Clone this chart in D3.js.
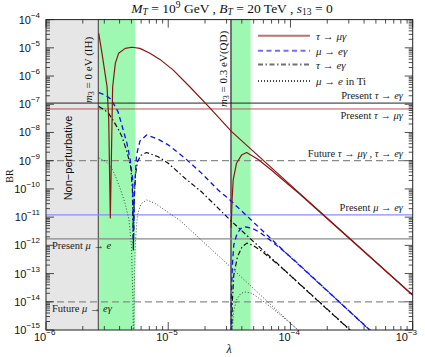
<!DOCTYPE html>
<html><head><meta charset="utf-8">
<script src="https://cdn.jsdelivr.net/npm/d3@7"></script>
<style>body{margin:0;background:#fff}</style>
</head><body>
<svg id="c" width="425" height="357"></svg>
<script>
// ---------------- data ----------------
const xTicks = [1e-6, 1e-5, 1e-4, 1e-3];
const xTickExp = ["−6", "−5", "−4", "−3"];
const yTicks = [1e-15,1e-14,1e-13,1e-12,1e-11,1e-10,1e-9,1e-8,1e-7,1e-6,1e-5,1e-4];
const yTickExp = ["−15","−14","−13","−12","−11","−10","−9","−8","−7","−6","−5","−4"];

const lambdaIH = 2.68e-6;   // m3 = 0 eV (IH)
const lambdaQD = 3.26e-5;   // m3 = 0.3 eV (QD)
const nonPertRange = [1e-6, 2.68e-6];
const greenBands = [[2.68e-6, 5.35e-6], [3.26e-5, 4.72e-5]];

// experimental bounds
const presentTauE = 1.1e-7;
const presentTauMu = 6.8e-8;
const futureTau = 1e-9;
const presentMuEGamma = 1.2e-11;
const presentMuE = 1.7e-12;
const futureMuEGamma = 1e-14;

// tau -> mu gamma
const tauMuIH = [[2.70e-6,3.27e-5],[2.87e-6,6.46e-6],[3.03e-6,1.38e-6],[3.16e-6,4.17e-7],[3.26e-6,2.75e-8],
  [3.36e-6,9.3e-12],[3.47e-6,2.75e-8],[3.51e-6,4.17e-7],[3.69e-6,2.82e-6],[3.93e-6,6.46e-6],[4.45e-6,9.55e-6],
  [5.05e-6,1.05e-5],[5.87e-6,9.55e-6],[7.08e-6,6.46e-6],[8.55e-6,3.89e-6],[1.10e-5,1.62e-6],[1.50e-5,4.17e-7],
  [2.19e-5,7.41e-8],[3.30e-5,1.07e-8],[1.19e-4,6.92e-11],[1e-3,1.74e-14]];
const tauMuQD = [[3.27e-5,4.17e-12],[3.33e-5,4.07e-11],[3.40e-5,2.09e-10],[3.62e-5,8.13e-10],[3.98e-5,1.58e-9],
  [4.38e-5,1.95e-9],[5.45e-5,1.10e-9],[7.05e-5,4.47e-10],[8.99e-5,1.82e-10],[1.19e-4,6.61e-11],[1e-3,1.70e-14]];

// mu -> e gamma
const muEIH = [[2.70e-6,2.57e-7],[3.05e-6,2.14e-7],[3.40e-6,1.51e-7],[3.88e-6,5.50e-8],[4.13e-6,2.14e-8],
  [4.59e-6,4.17e-9],[4.89e-6,1.07e-9],[5.12e-6,2.09e-10],[5.19e-6,1.05e-12],[5.30e-6,9.12e-11],[5.50e-6,1.58e-9],
  [5.87e-6,5.01e-9],[6.65e-6,8.13e-9],[8.28e-6,5.75e-9],[1.0e-5,3.63e-9],[1.37e-5,1.23e-9],[1.87e-5,3.63e-10],
  [2.56e-5,9.12e-11],[3.20e-5,4.07e-11],[9.89e-5,3.98e-13],[4.46e-4,1.0e-15],[1e-3,3.98e-17]];
const muEQD = [[3.27e-5,1e-16],[3.28e-5,1.17e-14],[3.35e-5,2.04e-13],[3.44e-5,1.05e-12],[3.65e-5,2.57e-12],
  [3.93e-5,3.98e-12],[4.32e-5,4.47e-12],[4.83e-5,4.07e-12],[5.62e-5,2.88e-12],[6.79e-5,1.55e-12],
  [8.51e-5,7.08e-13],[1.09e-4,2.82e-13],[4.46e-4,9.77e-16],[1e-3,3.98e-17]];

// tau -> e gamma
const tauEIH = [[2.70e-6,8.32e-8],[2.98e-6,6.46e-8],[3.24e-6,4.90e-8],[3.53e-6,2.75e-8],[3.88e-6,1.38e-8],
  [4.18e-6,7.24e-9],[4.63e-6,1.86e-9],[4.95e-6,5.50e-10],[5.09e-6,9.12e-11],[5.18e-6,6.92e-13],[5.26e-6,4.07e-11],
  [5.40e-6,3.16e-10],[5.60e-6,9.12e-10],[5.98e-6,1.55e-9],[6.65e-6,1.95e-9],[8.28e-6,1.38e-9],[1.0e-5,8.13e-10],
  [1.37e-5,2.40e-10],[1.87e-5,7.94e-11],[2.56e-5,2.09e-11],[3.20e-5,7.94e-12],[9.89e-5,8.91e-14],
  [3.06e-4,1.02e-15],[1e-3,1e-17]];
const tauEQD = [[3.27e-5,1e-16],[3.35e-5,1.17e-14],[3.44e-5,8.91e-14],[3.68e-5,3.89e-13],[4.01e-5,8.71e-13],
  [4.40e-5,1.20e-12],[4.92e-5,1.0e-12],[5.83e-5,6.17e-13],[7.05e-5,3.16e-13],[8.99e-5,1.29e-13],
  [1.19e-4,4.17e-14],[3.06e-4,1e-15],[1e-3,1e-17]];

// mu -> e in Ti
const muTiIH = [[2.70e-6,1.26e-9],[3.03e-6,9.77e-10],[3.33e-6,7.08e-10],[3.66e-6,3.16e-10],[4.03e-6,1.07e-10],
  [4.43e-6,3.16e-11],[4.78e-6,7.94e-12],[5.00e-6,1.02e-12],[5.14e-6,1.15e-14],[5.20e-6,1e-16],[5.27e-6,2.63e-14],
  [5.40e-6,1.55e-12],[5.60e-6,1.20e-11],[5.98e-6,2.95e-11],[6.65e-6,4.07e-11],[7.78e-6,3.09e-11],
  [1.07e-5,1.20e-11],[1.25e-5,7.59e-12],[3.20e-5,1.78e-13],[1.15e-4,1e-15],[1e-3,1.58e-19]];
const muTiQD = [[3.27e-5,1e-17],[3.35e-5,1e-15],[3.44e-5,5.13e-15],[3.65e-5,1.26e-14],[3.93e-5,2.0e-14],
  [4.32e-5,2.24e-14],[4.83e-5,2.0e-14],[5.62e-5,1.26e-14],[6.79e-5,6.92e-15],[8.51e-5,3.09e-15],
  [1.09e-4,1.23e-15],[1e-3,1.58e-19]];

// ---------------- drawing ----------------
const L = 46, R = 412.7, T = 19.6, B = 330;
const x = d3.scaleLog().domain([1e-6, 1e-3]).range([L, R]);
const y = d3.scaleLog().domain([1e-15, 1e-4]).range([B, T]);
const svg = d3.select("#c");
const serif = "'Liberation Serif','DejaVu Serif',serif";
const sans = "'Liberation Sans',Arial,sans-serif";

svg.append("defs").append("clipPath").attr("id","clip")
  .append("rect").attr("x",L).attr("y",T).attr("width",R-L).attr("height",B-T);

// background regions
svg.append("rect").attr("x", x(nonPertRange[0])).attr("y", T)
  .attr("width", x(nonPertRange[1]) - x(nonPertRange[0])).attr("height", B - T).attr("fill", "#e6e6e6");
svg.selectAll("rect.band").data(greenBands).enter().append("rect").attr("class","band")
  .attr("x", d => x(d[0])).attr("y", T).attr("width", d => x(d[1]) - x(d[0])).attr("height", B - T)
  .attr("fill", "#9ff8b2");

// vertical lines
svg.append("line").attr("x1", x(lambdaIH)).attr("x2", x(lambdaIH)).attr("y1", T).attr("y2", B)
  .attr("stroke", "#555").attr("stroke-width", 1.2);
svg.append("line").attr("x1", x(lambdaQD)).attr("x2", x(lambdaQD)).attr("y1", T).attr("y2", B)
  .attr("stroke", "#222").attr("stroke-width", 1.2);

// horizontal reference lines
const hlines = [
  {v: presentTauE, c: "#222", w: 1, d: null},
  {v: presentTauMu, c: "#b05656", w: 1, d: null},
  {v: futureTau, c: "#8a8a8a", w: 1.3, d: "7,4"},
  {v: presentMuEGamma, c: "#8a8aff", w: 1.4, d: null},
  {v: presentMuE, c: "#8a8a8a", w: 1.3, d: null},
  {v: futureMuEGamma, c: "#8a8a8a", w: 1.3, d: "7,4"}
];
hlines.forEach(h => {
  svg.append("line").attr("x1", L).attr("x2", R).attr("y1", y(h.v)).attr("y2", y(h.v))
    .attr("stroke", h.c).attr("stroke-width", h.w).attr("stroke-dasharray", h.d);
});

// curves
const line = d3.line().x(d => x(d[0])).y(d => y(d[1]));
const g = svg.append("g").attr("clip-path", "url(#clip)");
const styles = {
  red: {c: "#8b1515", w: 1.2, d: null},
  blue: {c: "#1010f0", w: 1.3, d: "5,3.5"},
  blk: {c: "#111", w: 1.2, d: "5,2.5,1.5,2.5"},
  dot: {c: "#444", w: 1, d: "1,2"}
};
[[muTiIH,"dot"],[muTiQD,"dot"],[tauEIH,"blk"],[tauEQD,"blk"],[muEIH,"blue"],[muEQD,"blue"],[tauMuIH,"red"],[tauMuQD,"red"]]
.forEach(([data, s]) => {
  const st = styles[s];
  g.append("path").attr("d", line(data)).attr("fill","none").attr("stroke", st.c)
    .attr("stroke-width", st.w).attr("stroke-dasharray", st.d).attr("stroke-linejoin","round");
});

// frame
svg.append("rect").attr("x", L).attr("y", T).attr("width", R - L).attr("height", B - T)
  .attr("fill","none").attr("stroke","#222").attr("stroke-width",1);

// ticks
const xMinor = [], yMinor = [];
for (let d = -6; d < -3; d++) for (let k = 2; k < 10; k++) xMinor.push(k * Math.pow(10, d));
for (let d = -15; d < -4; d++) for (let k = 2; k < 10; k++) yMinor.push(k * Math.pow(10, d));
const tk = svg.append("g").attr("stroke", "#222").attr("stroke-width", 0.8);
xTicks.forEach(v => { tk.append("line").attr("x1",x(v)).attr("x2",x(v)).attr("y1",B).attr("y2",B-8);
  tk.append("line").attr("x1",x(v)).attr("x2",x(v)).attr("y1",T).attr("y2",T+8); });
xMinor.forEach(v => { tk.append("line").attr("x1",x(v)).attr("x2",x(v)).attr("y1",B).attr("y2",B-4);
  tk.append("line").attr("x1",x(v)).attr("x2",x(v)).attr("y1",T).attr("y2",T+4); });
yTicks.forEach(v => { tk.append("line").attr("y1",y(v)).attr("y2",y(v)).attr("x1",L).attr("x2",L+8);
  tk.append("line").attr("y1",y(v)).attr("y2",y(v)).attr("x1",R).attr("x2",R-8); });
yMinor.forEach(v => { tk.append("line").attr("y1",y(v)).attr("y2",y(v)).attr("x1",L).attr("x2",L+4);
  tk.append("line").attr("y1",y(v)).attr("y2",y(v)).attr("x1",R).attr("x2",R-4); });

// tick labels
xTicks.forEach((v, i) => {
  const t = svg.append("text").attr("x", x(v) - 12 - (i === 3 ? 5 : 0)).attr("y", B + 11).attr("font-family", sans)
    .attr("font-size", 11).attr("fill","#111");
  t.append("tspan").text("10");
  t.append("tspan").attr("dy", -6).attr("font-size", 8).text(xTickExp[i]);
});
yTicks.forEach((v, i) => {
  const t = svg.append("text").attr("x", 40).attr("y", y(v) + 4).attr("text-anchor","end")
    .attr("font-family", sans).attr("font-size", 11).attr("fill","#111");
  t.append("tspan").text("10");
  t.append("tspan").attr("dy", -6).attr("font-size", 8).text(yTickExp[i]);
});

// helper for rich text: parts {t, i (italic), dy (shift), fs (font size)}
function rich(sel, parts) {
  parts.forEach(p => {
    const ts = sel.append("tspan").text(p.t);
    if (p.i) ts.attr("font-style","italic");
    if (p.dy) ts.attr("dy", p.dy);
    if (p.fs) ts.attr("font-size", p.fs);
  });
  return sel;
}

// title
rich(svg.append("text").attr("x", 232).attr("y", 12.5).attr("text-anchor","middle")
  .attr("font-family", serif).attr("font-size", 13.5).attr("fill","#111"), [
  {t:"M", i:1},{t:"T", i:1, dy:2.5, fs:9.5},{t:" = 10", dy:-2.5},{t:"9", dy:-4.5, fs:9.5},{t:" GeV , ", dy:4.5},
  {t:"B", i:1},{t:"T", i:1, dy:2.5, fs:9.5},{t:" = 20 TeV , ", dy:-2.5},{t:"s", i:1},{t:"13", dy:2.5, fs:9.5},{t:" = 0", dy:-2.5}
]);

// axis titles
svg.append("text").attr("transform","translate(13,176) rotate(-90)").attr("text-anchor","middle")
  .attr("font-family", serif).attr("font-size", 10).attr("fill","#111").text("BR");
svg.append("text").attr("x", 229).attr("y", 353).attr("text-anchor","middle")
  .attr("font-family", serif).attr("font-style","italic").attr("font-size", 12).attr("fill","#111").text("λ");

// region labels
svg.append("text").attr("transform","translate(72,158) rotate(-90)").attr("text-anchor","middle")
  .attr("font-family", sans).attr("font-size", 11).attr("fill","#111").text("Non−perturbative");
rich(svg.append("text").attr("transform",`translate(${x(lambdaIH)-6},70) rotate(-90)`).attr("text-anchor","middle")
  .attr("font-family", serif).attr("font-size", 11).attr("fill","#111"),
  [{t:"m", i:1},{t:"3", dy:2, fs:8},{t:" = 0 eV (IH)", dy:-2}]);
rich(svg.append("text").attr("transform",`translate(${x(lambdaQD)-4},69) rotate(-90)`).attr("text-anchor","middle")
  .attr("font-family", serif).attr("font-size", 11).attr("fill","#111"),
  [{t:"m", i:1},{t:"3", dy:2, fs:8},{t:" = 0.3 eV(QD)", dy:-2}]);

// bound labels
function label(xp, yp, anchor, parts) {
  rich(svg.append("text").attr("x", xp).attr("y", yp).attr("text-anchor", anchor)
    .attr("font-family", serif).attr("font-size", 10.5).attr("fill","#222"), parts);
}
label(403, y(presentTauE) - 4, "end", [{t:"Present "},{t:"τ", i:1},{t:" → "},{t:"eγ", i:1}]);
label(403, y(presentTauMu) + 10, "end", [{t:"Present "},{t:"τ", i:1},{t:" → "},{t:"μγ", i:1}]);
label(403, y(futureTau) - 4, "end", [{t:"Future "},{t:"τ", i:1},{t:" → "},{t:"μγ", i:1},{t:" , "},{t:"τ", i:1},{t:" → "},{t:"eγ", i:1}]);
label(403, y(presentMuEGamma) - 4, "end", [{t:"Present "},{t:"μ", i:1},{t:" → "},{t:"eγ", i:1}]);
label(52, y(presentMuE) + 10, "start", [{t:"Present "},{t:"μ", i:1},{t:" → "},{t:"e", i:1}]);
label(52, y(futureMuEGamma) + 10, "start", [{t:"Future "},{t:"μ", i:1},{t:" → "},{t:"eγ", i:1}]);

// legend
const legendItems = [
  {s:"red", parts:[{t:"τ", i:1},{t:" → "},{t:"μγ", i:1}]},
  {s:"blue", parts:[{t:"μ", i:1},{t:" → "},{t:"eγ", i:1}]},
  {s:"blk", parts:[{t:"τ", i:1},{t:" → "},{t:"eγ", i:1}]},
  {s:"dot", parts:[{t:"μ", i:1},{t:" → "},{t:"e", i:1},{t:" in Ti"}]}
];
const legendY = [35.7, 50.7, 64.5, 81];
legendItems.forEach((it, i) => {
  const st = styles[it.s];
  svg.append("line").attr("x1", 258).attr("x2", 310).attr("y1", legendY[i]).attr("y2", legendY[i])
    .attr("stroke", st.c).attr("stroke-width", st.w + 0.8).attr("stroke-opacity", it.s === "dot" ? 1 : 0.6)
    .attr("stroke-dasharray", st.d);
  rich(svg.append("text").attr("x", 316).attr("y", legendY[i] + 4)
    .attr("font-family", serif).attr("font-size", 11).attr("fill","#222"), it.parts);
});
</script>
</body></html>
